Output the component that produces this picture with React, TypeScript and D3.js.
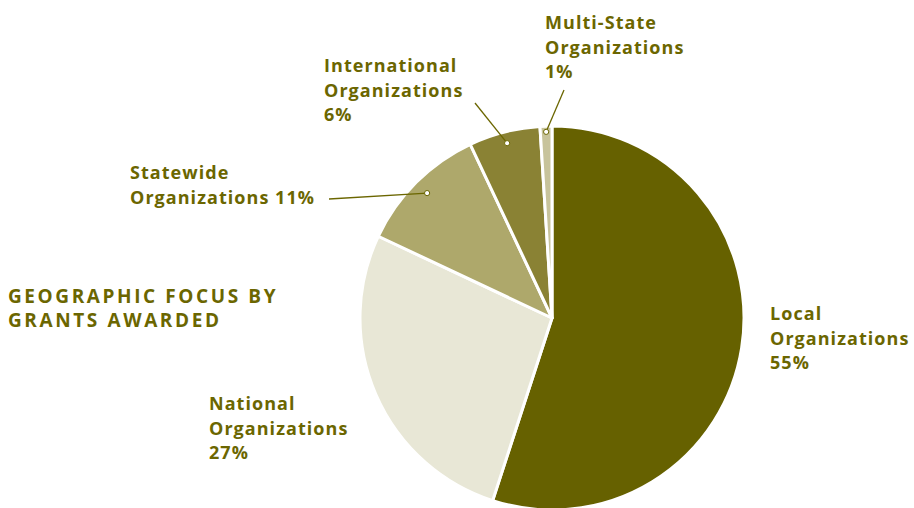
import { useEffect, useRef } from "react";
import * as d3 from "d3";

// slice order clockwise from 12 o'clock
const categories = ["Local", "National", "Statewide", "International", "Multi-State"];
const shares = [55, 27, 11, 6, 1];
const colors = ["#666100", "#e8e7d6", "#aea86b", "#8a8234", "#c7c39b"];

// label text lines per slice
const labelLines: string[][] = [
  ["Local", "Organizations", "55%"],
  ["National", "Organizations", "27%"],
  ["Statewide", "Organizations 11%"],
  ["International", "Organizations", "6%"],
  ["Multi-State", "Organizations", "1%"],
];
const titleLines = ["GEOGRAPHIC FOCUS BY", "GRANTS AWARDED"];

const TEXT = "#6b6600";

export default function App() {
  const svgRef = useRef<SVGSVGElement | null>(null);

  useEffect(() => {
    if (!svgRef.current) return;
    const W = 914, H = 508;
    const cx = 552, cy = 318, R = 192;

    const svg = d3.select(svgRef.current);
    svg.selectAll("*").remove();
    svg.attr("width", W).attr("height", H).attr("viewBox", `0 0 ${W} ${H}`);

    const data = categories.map((c, i) => ({ cat: c, value: shares[i], i }));
    const pie = d3.pie<typeof data[number]>().value((d) => d.value).sort(null);
    const arcs = pie(data);
    const arc = d3.arc<d3.PieArcDatum<typeof data[number]>>().innerRadius(0).outerRadius(R);

    const g = svg.append("g").attr("transform", `translate(${cx},${cy})`);
    g.selectAll("path.slice").data(arcs).enter().append("path")
      .attr("class", "slice")
      .attr("d", arc as any)
      .attr("fill", (d) => colors[d.data.i])
      .attr("stroke", "#fff")
      .attr("stroke-width", 3)
      .attr("stroke-linejoin", "round");

    const font = "'Open Sans', 'DejaVu Sans', sans-serif";
    const fs = 18, lh = 24.5;

    // label anchors (first baseline) and leader line end
    const labelPos: { x: number; y: number; lead?: [number, number]; dotR?: number }[] = [
      { x: 770, y: 320 },
      { x: 209, y: 410 },
      { x: 130, y: 179, lead: [329, 199], dotR: 0.92 },
      { x: 324, y: 72, lead: [475, 103], dotR: 0.94 },
      { x: 545, y: 29, lead: [564, 90], dotR: 0.97 },
    ];

    arcs.forEach((a) => {
      const p = labelPos[a.data.i];
      const t = svg.append("text").attr("font-family", font).attr("font-weight", 700)
        .attr("font-size", fs).attr("letter-spacing", 1.05).attr("fill", TEXT);
      labelLines[a.data.i].forEach((line, k) => {
        t.append("tspan").attr("x", p.x).attr("y", p.y + k * lh).text(line);
      });
      if (p.lead) {
        const mid = (a.startAngle + a.endAngle) / 2;
        const r = R * (p.dotR ?? 0.92);
        const dx = cx + r * Math.sin(mid), dy = cy - r * Math.cos(mid);
        svg.append("line").attr("x1", p.lead[0]).attr("y1", p.lead[1]).attr("x2", dx).attr("y2", dy)
          .attr("stroke", TEXT).attr("stroke-width", 1.3);
        svg.append("circle").attr("cx", dx).attr("cy", dy).attr("r", 2.6)
          .attr("fill", "#fff").attr("stroke", TEXT).attr("stroke-width", 1);
      }
    });

    const title = svg.append("text").attr("font-family", font).attr("font-weight", 700)
      .attr("font-size", 19).attr("letter-spacing", 2.6).attr("fill", TEXT);
    titleLines.forEach((line, k) => {
      title.append("tspan").attr("x", 8).attr("y", 303 + k * 24).text(line);
    });
  }, []);

  return (
    <svg ref={svgRef} style={{ position: "absolute", left: 0, top: 0, display: "block" }} />
  );
}
